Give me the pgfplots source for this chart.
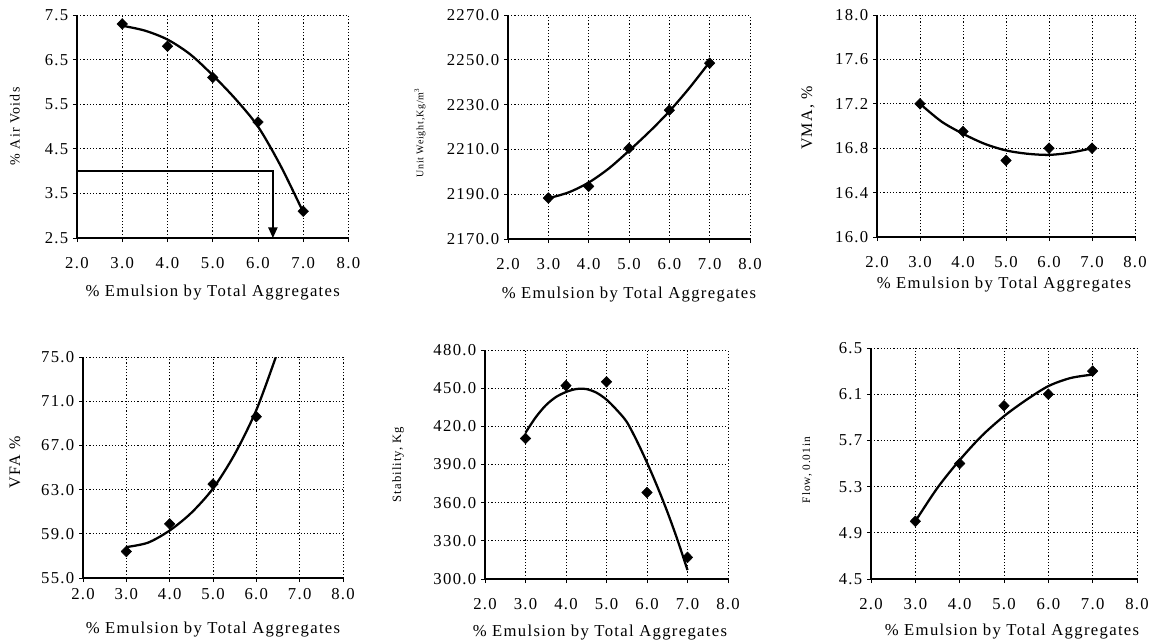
\documentclass[border=0pt]{standalone}
\usepackage{fontspec}
\setmainfont{Liberation Serif}
\newfontfamily\wide[LetterSpace=8]{Liberation Serif}
\usepackage{pgfplots}
\pgfplotsset{compat=1.18}
\usetikzlibrary{arrows.meta}

\pgfplotsset{
  emul/.style={
    scale only axis,
    xmin=2, xmax=8, xtick={2,3,...,8},
    axis lines=left,
    tick align=outside,
    major tick length=3pt,
    grid=major,
    major grid style={black, line width=0.6pt, dash pattern=on 0.9pt off 1.5pt},
    axis line style={black, line width=0.9pt, -},
    tick style={black, line width=0.7pt},
    /pgf/number format/assume math mode=true,
    /pgf/number format/fixed,
    /pgf/number format/fixed zerofill,
    /pgf/number format/precision=1,
    /pgf/number format/1000 sep={},
    xticklabel style={font=\wide\fontsize{12.5}{14}\selectfont, yshift=-8pt},
    yticklabel style={font=\wide\fontsize{12.5}{14}\selectfont},
    every axis x label/.style={at={(rel axis cs:0.5,0)}, anchor=center},
    every axis y label/.style={at={(rel axis cs:0,0.5)}, anchor=center, rotate=90},
    xlabel={\% Emulsion by Total Aggregates},
    xlabel style={font=\wide\fontsize{12.5}{14}\selectfont},
  },
  pts/.style={only marks, mark=diamond*, mark size=4pt, mark options={xscale=1.3, fill=black, draw=black}},
  fit/.style={no marks, smooth, black, line width=1.7pt},
}

\begin{document}
\begin{tikzpicture}
\useasboundingbox (0,0) rectangle (871.5pt,-482.25pt);

% % Air Voids
\begin{axis}[emul, at={(57.75pt,-178.5pt)}, anchor=south west,
  width=203.6pt, height=167.25pt, clip=false,
  ymin=2.5, ymax=7.5, ytick={2.5,3.5,...,7.5},
  ylabel={\% Air Voids}, ylabel style={font=\wide\fontsize{10.5}{12}\selectfont, yshift=46.5pt},
  xlabel style={yshift=-41.25pt}]
\addplot[black, line width=1pt, -{Triangle[width=7pt,length=8pt]}] coordinates {(2,4.0) (6.33,4.0) (6.33,2.5)};
\addplot[fit] coordinates {(3,7.26) (3.5,7.15) (4,6.95) (4.5,6.62) (5,6.15) (5.5,5.62) (6,5.0) (6.5,4.12) (7,3.08)};
\addplot[pts] coordinates {(3,7.3) (4,6.8) (5,6.1) (6,5.1) (7,3.1)};
\end{axis}

% Unit Weight
\begin{axis}[emul, at={(381pt,-179.25pt)}, anchor=south west,
  width=181.5pt, height=168pt,
  ymin=2170, ymax=2270, ytick={2170,2190,...,2270},
  ylabel={Unit Weight,Kg/m\textsuperscript{3}}, ylabel style={font=\wide\fontsize{7.5}{9}\selectfont, yshift=66pt, xshift=-4.5pt},
  xlabel style={yshift=-42pt}]
\addplot[fit] coordinates {(3,2188.2) (3.5,2190.8) (4,2195.2) (4.5,2201.5) (5,2209.4) (5.5,2217.8) (6,2227.0) (6.5,2237.5) (7,2249.0)};
\addplot[pts] coordinates {(3,2188.3) (4,2193.5) (5,2210.5) (6,2227.5) (7,2248.5)};
\end{axis}

% VMA
\begin{axis}[emul, at={(657.75pt,-177.75pt)}, anchor=south west,
  width=193.5pt, height=166.5pt,
  ymin=16, ymax=18, ytick={16,16.4,16.8,17.2,17.6,18},
  ylabel={VMA, \%}, ylabel style={font=\wide\fontsize{12}{14}\selectfont, yshift=51.75pt, xshift=6pt},
  xlabel style={yshift=-36pt, xshift=-1.5pt}]
\addplot[fit] coordinates {(3,17.2) (3.5,17.04) (4,16.93) (4.5,16.84) (5,16.78) (5.5,16.75) (6,16.74) (6.5,16.76) (7,16.8)};
\addplot[pts] coordinates {(3,17.2) (4,16.95) (5,16.69) (6,16.8) (7,16.8)};
\end{axis}

% VFA
\begin{axis}[emul, at={(62.25pt,-433.5pt)}, anchor=south west,
  width=195pt, height=165.75pt,
  ymin=55, ymax=75, ytick={55,59,...,75},
  xticklabel style={yshift=7pt},
  ylabel={VFA \%}, ylabel style={font=\wide\fontsize{12}{14}\selectfont, yshift=51pt, xshift=4pt},
  xlabel style={yshift=-39pt}]
\addplot[fit] coordinates {(3,57.8) (3.5,58.2) (4,59.3) (4.5,60.9) (5,63.1) (5.5,66.2) (6,70.2) (6.45,75.0)};
\addplot[pts] coordinates {(3,57.4) (4,59.9) (5,63.5) (6,69.6)};
\end{axis}

% Stability
\begin{axis}[emul, at={(363.75pt,-434.25pt)}, anchor=south west,
  width=182.25pt, height=171.75pt,
  ymin=300, ymax=480, ytick={300,330,...,480},
  ylabel={Stability, Kg}, ylabel style={font=\wide\fontsize{9.5}{11}\selectfont, yshift=65.25pt},
  xlabel style={yshift=-40.5pt, xshift=-4.9pt}]
\addplot[fit] coordinates {(3,415.0) (3.25,427.0) (3.5,436.5) (3.75,443.0) (4,447.0) (4.25,449.3) (4.5,449.3) (4.75,446.5) (5,441.0) (5.25,433.0) (5.5,423.5) (5.75,408.5) (6,391.5) (6.25,373.0) (6.5,353.0) (6.75,331.0) (7,307.0)};
\addplot[pts] coordinates {(3,410.5) (4,452.0) (5,455.0) (6,368.0) (7,317.0)};
\end{axis}

% Flow
\begin{axis}[emul, at={(653.25pt,-434.25pt)}, anchor=south west,
  width=199.5pt, height=173.25pt,
  ymin=4.5, ymax=6.5, ytick={4.5,4.9,5.3,5.7,6.1,6.5},
  ylabel={Flow, 0.01in}, ylabel style={font=\wide\fontsize{8.5}{10}\selectfont, yshift=48pt, xshift=-5pt},
  xlabel style={yshift=-39.75pt, xshift=6pt}]
\addplot[fit] coordinates {(3,5.0) (3.5,5.29) (4,5.53) (4.5,5.74) (5,5.91) (5.5,6.05) (6,6.17) (6.5,6.24) (7,6.27)};
\addplot[pts] coordinates {(3,5.0) (4,5.5) (5,6.0) (6,6.1) (7,6.3)};
\end{axis}
\end{tikzpicture}
\end{document}
